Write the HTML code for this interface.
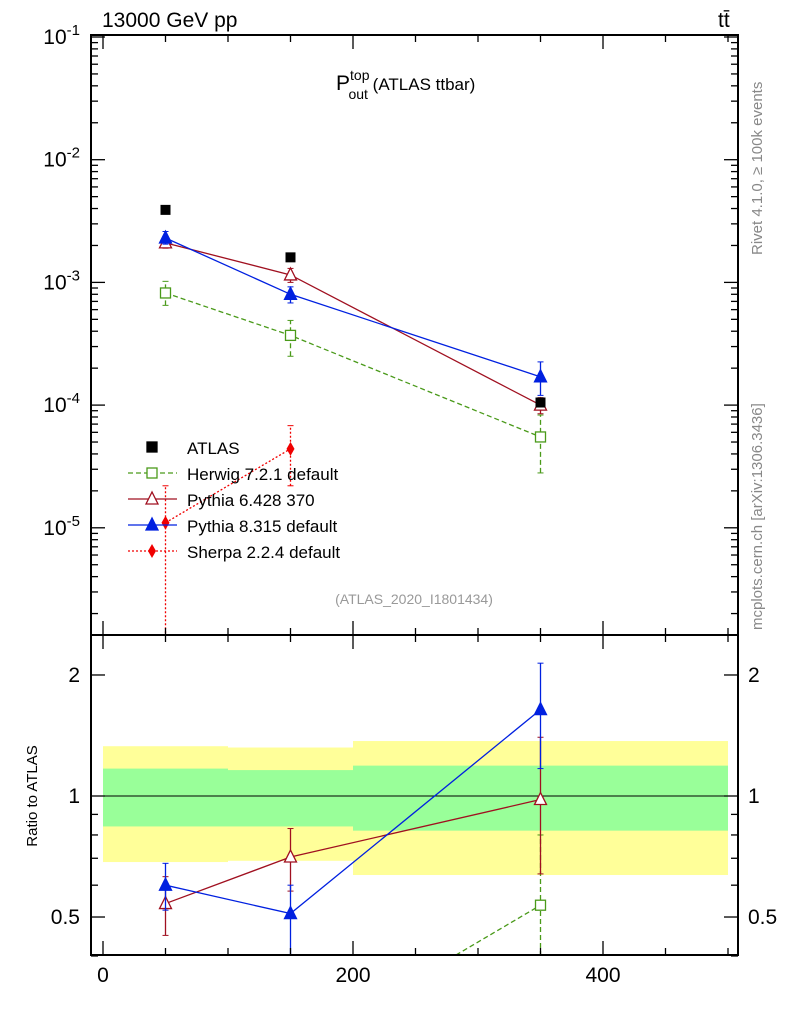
<!DOCTYPE html>
<html><head><meta charset="utf-8"><style>
body{margin:0;background:#fff;width:786px;height:1024px;overflow:hidden}
svg{font-family:"Liberation Sans",sans-serif}
</style></head><body>
<svg id="c" width="786" height="1024" xmlns="http://www.w3.org/2000/svg"></svg>
<script>
const xs=[50,150,350];
const atlas=[3.9e-3,1.6e-3,1.05e-4];
const herwig=[8.2e-4,3.7e-4,5.5e-5];
const herwigErr=[[6.5e-4,1.02e-3],[2.5e-4,4.9e-4],[2.8e-5,8.3e-5]];
const py6=[2.1e-3,1.15e-3,1.0e-4];
const py6Err=[[1.9e-3,2.3e-3],[1.0e-3,1.3e-3],[8.5e-5,1.15e-4]];
const py8=[2.3e-3,8.0e-4,1.7e-4];
const py8Err=[[2.05e-3,2.6e-3],[6.8e-4,9.2e-4],[1.2e-4,2.25e-4]];
const sherpaX=[50,150];
const sherpa=[1.1e-5,4.4e-5];
const sherpaErr=[[1e-7,2.2e-5],[2.2e-5,6.8e-5]];
const rHerwigX=[150,350];
const rHerwig=[0.23,0.535];
const rHerwigErr=[[0.23,0.23],[0.4,0.8]];
const rPy6=[0.54,0.705,0.98];
const rPy6Err=[[0.45,0.63],[0.58,0.83],[0.64,1.4]];
const rPy8=[0.60,0.51,1.64];
const rPy8Err=[[0.52,0.68],[0.3,0.6],[1.17,2.14]];
const bandEdges=[0,100,200,500];
const yellowLo=[0.685,0.69,0.636],yellowHi=[1.33,1.32,1.37];
const greenLo=[0.84,0.84,0.82],greenHi=[1.17,1.16,1.19];
const xTicks=[0,200,400];

const S=document.getElementById('c'),NS='http://www.w3.org/2000/svg';
function el(t,a,txt){const e=document.createElementNS(NS,t);for(const k in a)e.setAttribute(k,a[k]);if(txt!==undefined)e.textContent=txt;S.appendChild(e);return e;}
const L=91,R=738,T=35,M=635,B=955;
const X=v=>103+(v-0)*1.25;
const Y=v=>37-(Math.log10(v)+1)*122.7;
const YR=v=>796-Math.log10(v)*402;
const clipY=(y,lo,hi)=>Math.max(lo,Math.min(hi,y));

// bands
for(let i=0;i<3;i++){
 let r=el('rect',{x:X(bandEdges[i]),y:YR(yellowHi[i]),width:X(bandEdges[i+1])-X(bandEdges[i]),height:YR(yellowLo[i])-YR(yellowHi[i]),fill:'#ffff99'});
 
 let g=el('rect',{x:X(bandEdges[i]),y:YR(greenHi[i]),width:X(bandEdges[i+1])-X(bandEdges[i]),height:YR(greenLo[i])-YR(greenHi[i]),fill:'#99ff99'});
 
}
el('line',{x1:L,x2:R,y1:YR(1),y2:YR(1),stroke:'#000','stroke-width':1});

function series(name,xv,vals,errs,Yf,lo,hi,color,dash,marker){
 const pts=xv.map((x,i)=>[X(x),Yf(vals[i])]);
 el('clipPath',{id:'cp'+name}).appendChild(Object.assign(document.createElementNS(NS,'rect'),{}));
 const cp=S.lastChild.firstChild;cp.setAttribute('x',L);cp.setAttribute('y',lo);cp.setAttribute('width',R-L);cp.setAttribute('height',hi-lo);
 const g=el('g',{'clip-path':'url(#cp'+name+')'});
 
 const pl=document.createElementNS(NS,'polyline');
 pl.setAttribute('points',pts.map(p=>p.join(',')).join(' '));
 pl.setAttribute('fill','none');pl.setAttribute('stroke',color);pl.setAttribute('stroke-width',1.3);
 if(dash)pl.setAttribute('stroke-dasharray',dash);
 g.appendChild(pl);
 errs&&errs.forEach((e,i)=>{const ln=document.createElementNS(NS,'line');
  ln.setAttribute('x1',pts[i][0]);ln.setAttribute('x2',pts[i][0]);ln.setAttribute('y1',Yf(e[0]));ln.setAttribute('y2',Yf(e[1]));
  ln.setAttribute('stroke',color);ln.setAttribute('stroke-width',1.3);if(dash)ln.setAttribute('stroke-dasharray',dash);g.appendChild(ln);
  [e[0],e[1]].forEach(v=>{const c=document.createElementNS(NS,'line');c.setAttribute('x1',pts[i][0]-3);c.setAttribute('x2',pts[i][0]+3);c.setAttribute('y1',Yf(v));c.setAttribute('y2',Yf(v));c.setAttribute('stroke',color);g.appendChild(c);});
 });
 pts.forEach(p=>{if(p[1]<lo-5||p[1]>hi+5)return;const m=marker(p[0],p[1]);g.appendChild(m);});
}
function mk(t,a){const e=document.createElementNS(NS,t);for(const k in a)e.setAttribute(k,a[k]);return e;}
const sq=(c,f)=>(x,y)=>mk('rect',{x:x-5,y:y-5,width:10,height:10,fill:f,stroke:c,'stroke-width':1.3});
const tri=(c,f)=>(x,y)=>mk('polygon',{points:`${x},${y-7} ${x-6},${y+5} ${x+6},${y+5}`,fill:f,stroke:c,'stroke-width':1.3});
const dia=c=>(x,y)=>mk('polygon',{points:`${x},${y-7} ${x-4},${y} ${x},${y+7} ${x+4},${y}`,fill:c});

series('herwig',xs,herwig,herwigErr,Y,T,M,'#4a9a1a','5,3',sq('#4a9a1a','#fff'));
series('pythia6',xs,py6,py6Err,Y,T,M,'#a01020',null,tri('#a01020','#fff'));
series('pythia8',xs,py8,py8Err,Y,T,M,'#0020e0',null,tri('#0020e0','#0020e0'));
series('sherpa',sherpaX,sherpa,sherpaErr,Y,T,M,'#f00000','2,2',dia('#f00000'));
xs.forEach((x,i)=>{const r=el('rect',{x:X(x)-5,y:Y(atlas[i])-5,width:10,height:10,fill:'#000'});});
series('ratio-herwig',rHerwigX,rHerwig,rHerwigErr,YR,M,B,'#4a9a1a','5,3',sq('#4a9a1a','#fff'));
series('ratio-pythia6',xs,rPy6,rPy6Err,YR,M,B,'#a01020',null,tri('#a01020','#fff'));
series('ratio-pythia8',xs,rPy8,rPy8Err,YR,M,B,'#0020e0',null,tri('#0020e0','#0020e0'));

// frames
el('rect',{x:L,y:T,width:R-L,height:M-T,fill:'none',stroke:'#000','stroke-width':2});
el('rect',{x:L,y:M,width:R-L,height:B-M,fill:'none',stroke:'#000','stroke-width':2});
// x ticks
for(let v=0;v<=500;v+=50){const big=v%200===0;
 [[M,-1],[B,-1],[T,1],[M,1]].forEach(([yy,d])=>{el('line',{x1:X(v),x2:X(v),y1:yy,y2:yy+d*(big?14:7)*(d<0?1:1),stroke:'#000','stroke-width':1.3});});}
xTicks.forEach(v=>{const t=el('text',{x:X(v),y:982,'font-size':21,'text-anchor':'middle'},v);});
// log y ticks
for(let e=-6;e<=-1;e++){for(let k=1;k<10;k++){const v=k*Math.pow(10,e),y=Y(v);if(y<T||y>M)continue;const w=k===1?14:7;
 el('line',{x1:L,x2:L+w,y1:y,y2:y,stroke:'#000','stroke-width':1.3});el('line',{x1:R,x2:R-w,y1:y,y2:y,stroke:'#000','stroke-width':1.3});}}
[-1,-2,-3,-4,-5].forEach(e=>{const t=el('text',{x:80,y:Y(Math.pow(10,e))+7,'font-size':21,'text-anchor':'end'});t.innerHTML=`10<tspan dy="-9" font-size="15">${e}</tspan>`;});
// ratio ticks
[0.4,0.5,0.6,0.7,0.8,0.9,1,2].forEach(v=>{const y=YR(v),w=(v===0.5||v===1||v===2)?14:7;
 el('line',{x1:L,x2:L+w,y1:y,y2:y,stroke:'#000','stroke-width':1.3});el('line',{x1:R,x2:R-w,y1:y,y2:y,stroke:'#000','stroke-width':1.3});});
[[0.5,'0.5'],[1,'1'],[2,'2']].forEach(([v,s])=>{el('text',{x:80,y:YR(v)+7,'font-size':21,'text-anchor':'end'},s);el('text',{x:748,y:YR(v)+7,'font-size':21},s);});
const yt=el('text',{transform:'translate(37,796) rotate(-90)','font-size':15,'text-anchor':'middle'},'Ratio to ATLAS');
// titles
el('text',{x:102,y:27,'font-size':21},'13000 GeV pp');
el('text',{x:718,y:27,'font-size':21},'tt̄');
const tt=el('text',{x:336,y:90,'font-size':21});tt.innerHTML='P<tspan dy="-10" font-size="14">top</tspan><tspan dx="-21" dy="19" font-size="14">out</tspan><tspan dy="-9" font-size="17"> (ATLAS ttbar)</tspan>';
el('text',{x:414,y:604,'font-size':14,fill:'#999','text-anchor':'middle'},'(ATLAS_2020_I1801434)');
el('text',{transform:'translate(762,255) rotate(-90)','font-size':15,fill:'#888'},'Rivet 4.1.0, ≥ 100k events');
el('text',{transform:'translate(762,630) rotate(-90)','font-size':15,fill:'#888'},'mcplots.cern.ch [arXiv:1306.3436]');
// legend
const leg=[['ATLAS',null,null,sq('#000','#000')],['Herwig 7.2.1 default','#4a9a1a','5,3',sq('#4a9a1a','#fff')],['Pythia 6.428 370','#a01020',null,tri('#a01020','#fff')],['Pythia 8.315 default','#0020e0',null,tri('#0020e0','#0020e0')],['Sherpa 2.2.4 default','#f00000','2,2',dia('#f00000')]];
leg.forEach((l,i)=>{const y=447+i*26;
 if(l[1])el('line',{x1:128,x2:177,y1:y,y2:y,stroke:l[1],'stroke-width':1.3,'stroke-dasharray':l[2]||'none'});
 const m=l[3](152,y);S.appendChild(m);
 const t=el('text',{x:187,y:y+7,'font-size':17},l[0]);});
</script>
</body></html>
